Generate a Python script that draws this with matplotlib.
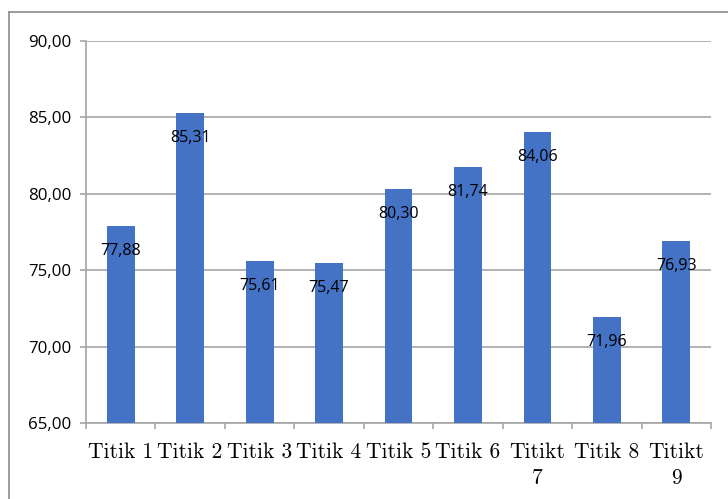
import matplotlib
matplotlib.use("Agg")
import matplotlib.pyplot as plt
from matplotlib.lines import Line2D
import numpy as np

categories = ["Titik 1", "Titik 2", "Titik 3", "Titik 4", "Titik 5",
              "Titik 6", "Titikt\n7", "Titik 8", "Titikt\n9"]
values = [77.88, 85.31, 75.61, 75.47, 80.30, 81.74, 84.06, 71.96, 76.93]
y_ticks = [65, 70, 75, 80, 85, 90]

BAR = "#4472C4"
GRID = "#A6A6A6"


def comma(v):
    return f"{v:.2f}".replace(".", ",")


fig = plt.figure(figsize=(7.28, 4.99), dpi=100)
ax = fig.add_axes([86 / 728, 76 / 499, 625 / 728, 382 / 499])

x = np.arange(len(categories))
ax.bar(x, values, width=0.4, color=BAR, zorder=3)

ax.set_xlim(-0.5, len(categories) - 0.5)
ax.set_ylim(y_ticks[0], y_ticks[-1])
ax.set_yticks(y_ticks)
ax.set_yticklabels([comma(t) for t in y_ticks], fontsize=12.2,
                   family="Open Sans")
ax.yaxis.grid(True, color=GRID, linewidth=1.2, zorder=0)

# category labels at centres, tick marks on category boundaries
ax.set_xticks(x)
ax.set_xticklabels(categories, family="cmr10", fontsize=15.5,
                   linespacing=1.4, va="top")
ax.tick_params(axis="x", which="major", length=0, pad=14)
ax.set_xticks(np.arange(-0.5, len(categories)), minor=True)
ax.tick_params(axis="x", which="minor", length=4.5, color=GRID, width=1.2)
ax.tick_params(axis="y", length=4.5, color=GRID, width=1.2, pad=6)

for side in ("top", "right"):
    ax.spines[side].set_visible(False)
for side in ("left", "bottom"):
    ax.spines[side].set_color(GRID)
    ax.spines[side].set_linewidth(1.2)

for xi, v in zip(x, values):
    ax.annotate(comma(v), (xi, v), xytext=(0, -18), textcoords="offset points",
                ha="center", va="center", fontsize=11.5, family="Open Sans",
                zorder=4)

# chart frame
fy = 1 - 11.5 / 499
fx = 8.5 / 728
fig.add_artist(Line2D([fx, fx], [-0.05, fy], transform=fig.transFigure,
                      color="#8C8C8C", linewidth=1.2))
fig.add_artist(Line2D([fx, 1.05], [fy, fy], transform=fig.transFigure,
                      color="#8C8C8C", linewidth=1.2))

fig.savefig("out.png", dpi=100)
